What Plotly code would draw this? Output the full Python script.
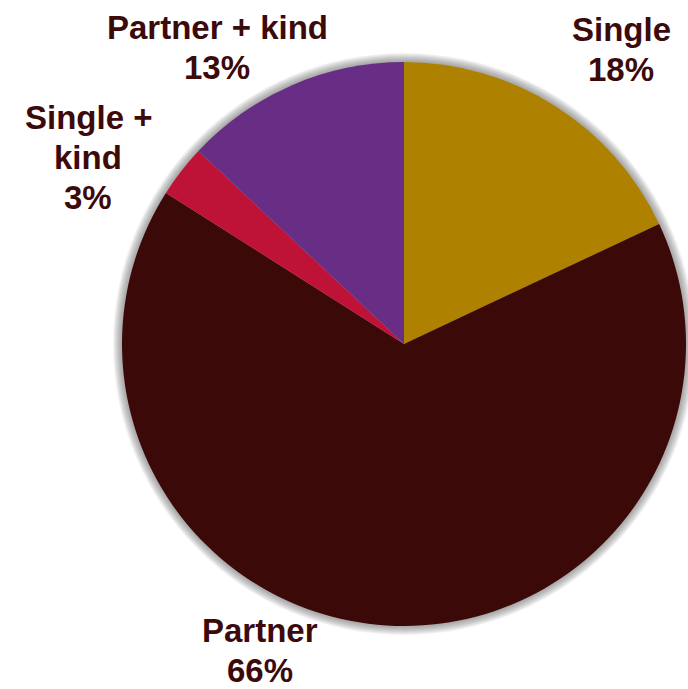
import plotly.graph_objects as go

# Household composition shares (percent)
categories = ["Single", "Partner", "Single + kind", "Partner + kind"]
shares = [18, 66, 3, 13]
colors = ["#AE8200", "#3C0909", "#BE1337", "#682D84"]

# Label lines for each slice, and where each label block is placed (paper coords)
label_lines = [["Single"], ["Partner"], ["Single +", "kind"], ["Partner + kind"]]
label_x = [0.903, 0.378, 0.128, 0.316]
label_top_y = [0.957, 0.085, 0.829, 0.96]

W, H = 688, 689
cx, cy, r = 404, 344, 282
text_color = "#3C0A0A"
font = dict(family="Liberation Sans, Arial, sans-serif", size=33, color=text_color)

fig = go.Figure()

fig.add_trace(go.Pie(
    labels=categories, values=shares, sort=False,
    direction="clockwise", rotation=0,
    marker=dict(colors=colors, line=dict(width=0)),
    textinfo="none", hoverinfo="label+percent",
    domain=dict(x=[(cx - r) / W, (cx + r) / W],
                y=[(H - cy - r) / H, (H - cy + r) / H]),
    showlegend=False,
))

# Soft drop shadow: stacked translucent discs slightly larger than the pie
for k in range(9, 0, -1):
    rr = r + k
    fig.add_shape(
        type="circle", xref="paper", yref="paper", layer="below",
        x0=(cx - rr) / W, x1=(cx + rr) / W,
        y0=(H - cy - rr) / H, y1=(H - cy + rr) / H,
        fillcolor="rgba(90,90,90,0.07)", line=dict(width=0),
    )

# Category labels with their percentage underneath
line_step = 40 / H
for lines, share, x, y0 in zip(label_lines, shares, label_x, label_top_y):
    for i, txt in enumerate(lines + [f"{share}%"]):
        fig.add_annotation(
            x=x, y=y0 - i * line_step, xref="paper", yref="paper",
            text=f"<b>{txt}</b>", showarrow=False, font=font,
            xanchor="center", yanchor="middle",
        )

fig.update_layout(
    width=W, height=H,
    margin=dict(l=0, r=0, t=0, b=0),
    paper_bgcolor="white", plot_bgcolor="white",
)

fig.write_html("out.html")
